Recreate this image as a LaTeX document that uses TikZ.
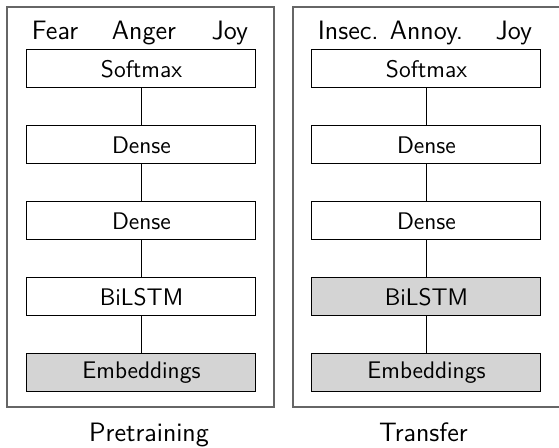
\documentclass[tikz,border=0pt]{standalone}
\usepackage{fontspec}
\begin{document}
\begin{tikzpicture}[
        node distance = 38pt, % distance between layers
        thin, % line style
        font = \sffamily
      ]

      \tikzstyle{layer}=[rectangle,draw=black,fill=white,line width=0.5pt,minimum width=114.5pt,minimum height=19pt,inner sep=0pt,font=\sffamily\fontsize{12}{14}\selectfont]
      \tikzstyle{frozen}=[layer,fill=black!17]
      \tikzstyle{cls}=[inner sep=0pt,font=\sffamily\fontsize{13.3}{16}\selectfont]

      \useasboundingbox (-70.75pt,34.5pt) rectangle (208.75pt,-189.5pt);

      % pretraining model
      \node[layer] (sm1) {Softmax};
      \node[layer] (da1) [below of=sm1] {Dense};
      \node[layer] (db1) [below of=da1] {Dense};
      \node[layer] (bl1) [below of=db1] {BiLSTM};
      \node[frozen] (em1) [below of=bl1] {Embeddings};

      % transfer model
      \node[layer] (sm2) [right of=sm1, node distance=142.5pt] {Softmax};
      \node[layer] (da2) [below of=sm2] {Dense};
      \node[layer] (db2) [below of=da2] {Dense};
      \node[frozen] (bl2) [below of=db2] {BiLSTM};
      \node[frozen] (em2) [below of=bl2] {Embeddings};

      % classes
      \node[cls, anchor=base west] (fear) at ([xshift=2.5pt, yshift=5pt]sm1.north west) {Fear};
      \node[cls, anchor=base] (anger) at ([xshift=1.25pt, yshift=5pt]sm1.north) {Anger};
      \node[cls, anchor=base east] (joy1) at ([xshift=-4pt, yshift=5pt]sm1.north east) {Joy};
      \node[cls, anchor=base west] (insec) at ([xshift=3pt, yshift=5pt]sm2.north west) {Insec.};
      \node[cls, anchor=base] (annoy) at ([yshift=5pt]sm2.north) {Annoy.};
      \node[cls, anchor=base east] (joy2) at ([xshift=-4.5pt, yshift=5pt]sm2.north east) {Joy};

      \draw (sm1) -- (da1);
      \draw (da1) -- (db1);
      \draw (db1) -- (bl1);
      \draw (bl1) -- (em1);
      \draw (sm2) -- (da2);
      \draw (da2) -- (db2);
      \draw (db2) -- (bl2);
      \draw (bl2) -- (em2);

      \draw[black!60, line width=0.7pt] (-67.25pt,31pt) rectangle (66.25pt,-169pt);
      \draw[black!60, line width=0.7pt] (75.75pt,31pt) rectangle (209.25pt,-169pt);

      \node[cls, anchor=base] (pre) at ([xshift=3.75pt, yshift=-24.75pt]em1.south) {Pretraining};
      \node[cls, anchor=base] (tra) at ([xshift=-1.5pt, yshift=-24.75pt]em2.south) {Transfer};

    \end{tikzpicture}
\end{document}
